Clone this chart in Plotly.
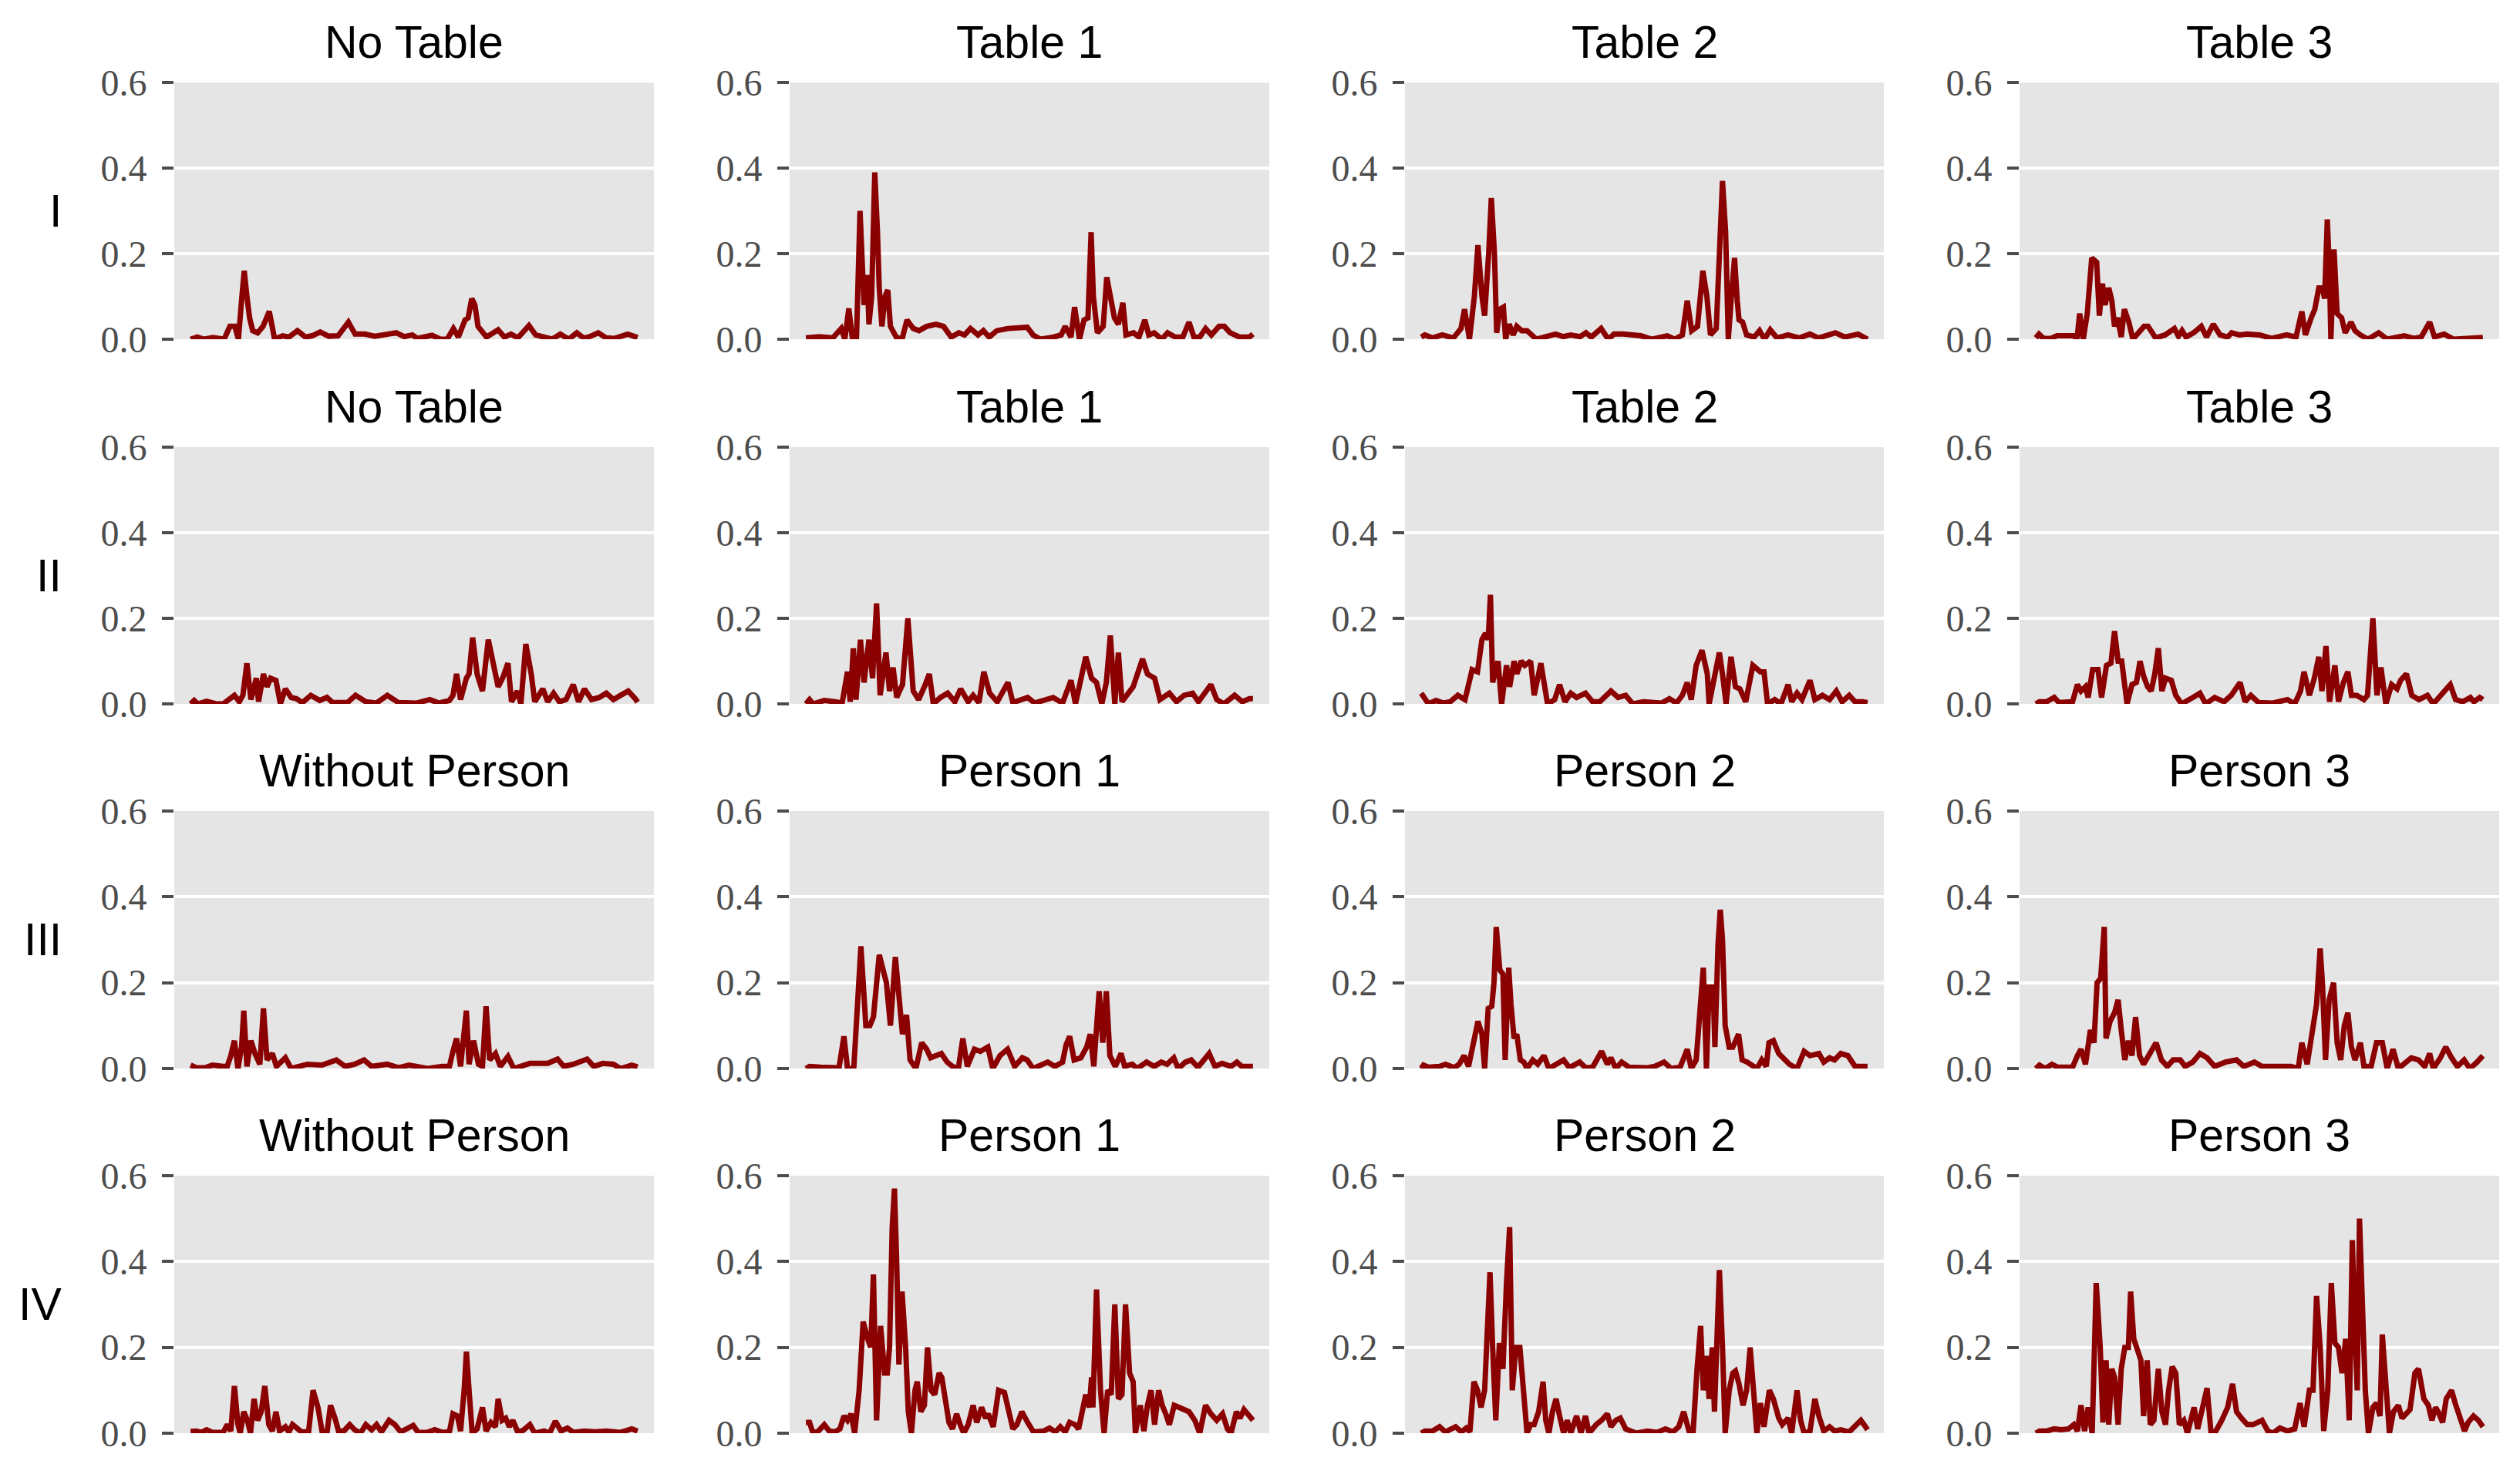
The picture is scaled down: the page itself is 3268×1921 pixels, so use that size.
import plotly.graph_objects as go

# ---------------- data ----------------
row_labels = ["I", "II", "III", "IV"]
col_titles_tables = ["No Table", "Table 1", "Table 2", "Table 3"]
col_titles_persons = ["Without Person", "Person 1", "Person 2", "Person 3"]
y_ticks = [0.0, 0.2, 0.4, 0.6]
y_tick_labels = ["0.0", "0.2", "0.4", "0.6"]

# Row I
t_1_1 = [0, 1.5, 3, 5, 7.5, 8.8, 9.9, 10.7, 11.4, 12, 12.6, 13.2, 13.9, 15, 16.2, 17.6, 18.8, 20.6, 22, 23.9, 25.7, 27.2, 29, 30.9, 33, 35.3, 36.8, 39, 41.2, 44.1, 46, 47.8, 49.6, 50.7, 54, 55.9, 57.4, 58.8, 59.9, 61.4, 62.1, 62.9, 63.6, 64.3, 65.1, 66.2, 68.8, 70.2, 71.7, 73.2, 75.7, 77.2, 78.7, 80.9, 82.7, 84.6, 86.4, 87.9, 89, 91.2, 93, 94.9, 97.8, 100]
v_1_1 = [0, .005, 0, .004, 0, .03, .03, 0, .09, .16, .10, .05, .02, .015, .03, .065, 0, .008, .005, .02, .005, .008, .017, .007, .008, .04, .012, .012, .007, .012, .015, .006, .01, .002, .009, 0, 0, .025, .005, .045, .05, .095, .08, .03, .02, .005, .022, .005, .012, .003, .032, .01, .006, 0, .012, 0, .015, .003, .005, .015, .003, .002, .012, .004]

t_1_2 = [0, 3, 6, 7.9, 8.7, 9.6, 10.4, 11.3, 12.1, 13, 13.7, 14.1, 14.7, 15.4, 16, 16.4, 17, 17.7, 18.3, 18.9, 20.2, 21.5, 22.6, 24, 25.3, 27, 29.1, 30.8, 32.5, 34.2, 35.5, 36.8, 38.5, 39.7, 41, 42.7, 45.2, 47.8, 49.5, 50.8, 52.5, 55.4, 57.1, 58, 59.3, 60.1, 61.2, 62.2, 63.1, 63.8, 64.3, 65.2, 66.5, 67.3, 68.2, 69, 69.9, 70.9, 71.6, 73.3, 74.5, 75.8, 76.7, 77.9, 79.6, 80.9, 82.6, 84.3, 85.7, 86.8, 88.1, 89.4, 90.7, 92.4, 93.6, 94.9, 97, 99.2, 100]
v_1_2 = [.003, .006, .003, .025, 0, .072, 0, 0, .30, .08, .15, .035, .10, .39, .25, .12, .03, .10, .115, .03, .005, 0, .045, .025, .02, .03, .035, .03, .005, .015, .01, .025, .01, .02, .005, .02, .025, .025, .028, .01, 0, .005, .01, .03, .005, .075, 0, .045, .05, .25, .10, .015, .03, .145, .09, .05, .035, .085, .01, .015, .005, .045, .01, .015, 0, .015, .005, .005, .04, .005, .005, .025, .01, .03, .03, .015, .005, .005, .012]

t_1_3 = [0, 0.8, 2.5, 4.7, 7.2, 8.9, 9.7, 10.8, 11.9, 12.7, 13.6, 14.2, 15.1, 15.7, 16.4, 16.9, 17.6, 18.4, 18.9, 19.7, 20.6, 21.4, 22.5, 23.7, 25.8, 28, 30.1, 31.8, 33.5, 35.6, 36.9, 38.1, 40.3, 41.9, 43.2, 45.3, 47, 49.2, 51.7, 55.1, 56.8, 58.5, 59.6, 60.6, 61.9, 63.1, 64, 64.8, 66.1, 66.9, 67.5, 68.2, 68.8, 69.5, 70.2, 70.8, 71.2, 72, 72.9, 74.6, 75.8, 76.9, 78.2, 79.7, 82.2, 84.7, 87.1, 89, 92.8, 94.9, 97.9, 100]
v_1_3 = [.005, .01, .003, .01, .003, .025, .07, 0, .10, .22, .10, .055, .20, .33, .20, .015, .07, .075, 0, .035, .01, .03, .02, .02, 0, .005, .012, .006, .01, .006, .015, .005, .025, 0, .012, .012, .01, .008, 0, .008, 0, .01, .09, .02, .03, .16, .10, .01, .025, .20, .37, .25, 0, .10, .19, .09, .045, .04, .01, .005, .02, 0, .022, .003, .01, .003, .012, .003, .015, .005, .012, 0]

t_1_4 = [0, 0.7, 1.7, 3.4, 4.7, 6.4, 8.5, 9.2, 9.8, 10.6, 11.5, 12.5, 13.6, 14.2, 14.9, 15.5, 16.3, 17, 17.6, 18.3, 19.1, 19.8, 20.8, 21.7, 24.2, 25.1, 26.8, 28.9, 31, 31.9, 32.7, 33.6, 35.3, 37, 38.2, 39.7, 41.2, 42.9, 43.8, 45.5, 47.2, 50.1, 52.7, 56.1, 58.2, 59.5, 60.3, 61.6, 62.4, 63.3, 64.1, 64.6, 65.2, 65.7, 66, 66.7, 67.4, 68.4, 69.2, 70.5, 71.4, 72.6, 74.3, 76.7, 78.6, 82.4, 84.5, 86.2, 88.1, 89.2, 91.3, 93.5, 96.4, 100]
v_1_4 = [.003, .012, .002, .002, .008, .007, .008, 0, .06, 0, .06, .19, .18, .055, .13, .08, .12, .09, .03, .05, .005, .07, .04, 0, .03, .03, .003, .01, .025, .007, .02, .005, .015, .03, .005, .035, .01, .005, .015, .01, .012, .01, .002, .01, .005, .065, .01, .05, .07, .12, .12, .095, .28, .15, 0, .21, .06, .05, .015, .04, .02, .01, 0, .015, 0, .008, .002, .005, .04, .005, .012, 0, .002, .004]

# Row II
t_2_1 = [0, 0.8, 1.6, 3.6, 5.7, 7.3, 9.8, 10.9, 11.7, 12.6, 13.5, 14.7, 15.2, 16.3, 17.1, 17.9, 19.1, 20.1, 21.2, 22.5, 23.7, 25, 26.9, 28.9, 30.5, 31.8, 35.1, 36.9, 39.2, 41.6, 44, 46.5, 50.6, 53.5, 55.5, 57.9, 58.7, 59.5, 60.4, 61.7, 62.3, 63.1, 64.1, 65.3, 66.6, 67.7, 68.8, 69.8, 71, 71.8, 73.1, 73.9, 75, 76.2, 77, 78.8, 79.9, 81.2, 82.5, 84, 85.6, 86.8, 88.1, 89.7, 91.4, 93, 94.6, 96.2, 97.9, 99.5, 100]
v_2_1 = [0, .008, 0, .006, 0, 0, .02, .005, .02, .095, .01, .06, .005, .07, .04, .06, .055, 0, .035, .015, .012, .003, .02, .008, .015, .003, .003, .02, .005, .002, .02, .003, .002, .01, .002, .008, .02, .07, .01, .06, .07, .155, .07, .03, .15, .09, .04, .06, .095, .005, .03, 0, .14, .07, .005, .035, .005, .025, .005, .01, .045, .005, .035, .01, .015, .025, .01, .02, .03, .012, .004]

t_2_2 = [0, 0.8, 1.6, 4.1, 6.5, 8.1, 9.3, 9.9, 10.6, 11.2, 12.2, 13, 14.1, 14.9, 15.8, 16.6, 17.9, 18.7, 19.5, 20.3, 21.6, 22.8, 24, 25.2, 26.5, 27.6, 28.5, 30.1, 31.7, 33.3, 34.6, 36.3, 37.4, 38.7, 39.8, 41.1, 42.8, 45.2, 46.3, 49.6, 51.2, 55.3, 57.4, 59.3, 60.3, 62.6, 63.9, 65, 66.2, 67.2, 68.1, 69.1, 69.9, 70.7, 73.2, 75.3, 76.4, 78, 79.2, 81.3, 82.9, 84.6, 86.5, 87.8, 90.6, 91.9, 93.5, 95.9, 97.6, 99.2, 100]
v_2_2 = [0, .01, 0, .008, .005, .002, .075, .005, .13, .01, .15, .05, .15, .06, .235, .02, .12, .03, .085, .015, .045, .20, .03, .01, .04, .07, 0, .015, .025, .005, .035, .005, .02, .003, .075, .025, .005, .05, .003, .015, .002, .015, .002, .055, 0, .11, .06, .05, 0, .05, .16, 0, .12, .005, .04, .105, .07, .06, .01, .025, .005, .02, .025, .005, .045, .01, 0, .02, .005, .012, .012]

t_2_3 = [0, 1.6, 3.3, 4.9, 6.5, 8.2, 9.8, 11.4, 12.6, 13.6, 14.4, 15, 15.5, 16, 17.2, 18, 19.1, 19.8, 20.8, 21.4, 22.4, 23.2, 24.5, 25.3, 26.8, 28.3, 29.9, 31, 32.2, 33.5, 34.8, 36.8, 38.4, 40, 42.5, 44.1, 45.8, 47.4, 49.8, 53.9, 55.6, 57.2, 58.5, 59.6, 60.5, 61.6, 62.9, 64.1, 64.5, 65.7, 66.8, 67.5, 68.3, 69.4, 70.4, 71.4, 72.7, 74.3, 76, 76.8, 77.6, 79.2, 80.6, 82.2, 83, 84.2, 85.3, 87.1, 88.2, 89.9, 91.5, 93, 94.3, 95.9, 97.2, 98.9, 100]
v_2_3 = [.025, 0, .008, .002, .005, .02, .01, .08, .075, .15, .165, .15, .255, .05, .10, 0, .09, .04, .10, .07, .10, .09, .10, .02, .095, 0, .01, .045, .005, .025, .015, .025, .005, .005, .03, .015, .02, 0, .005, .002, .012, .002, .02, .05, .01, .09, .125, .07, 0, .07, .12, .07, 0, .11, .04, .035, .005, .09, .075, .075, 0, .01, 0, .045, .005, .025, .01, .055, .01, .02, .01, .03, .005, .02, .005, .005, .003]

t_2_4 = [0, 0.8, 2.4, 4.1, 5.2, 8.2, 9.3, 10.1, 11.1, 11.7, 12.7, 13.9, 14.7, 15.8, 16.8, 17.6, 18.4, 19.2, 20.4, 21.5, 22.5, 23.3, 24.1, 25, 25.8, 26.6, 27.4, 28.2, 29, 30.3, 31.3, 32.6, 35.1, 36.7, 38, 40, 42.1, 43.7, 45.7, 46.8, 48.1, 49.8, 53, 56.3, 57.9, 59.2, 60, 61.2, 62.3, 63.3, 64, 64.9, 65.7, 66.9, 67.7, 68.8, 69.8, 70.6, 71.8, 73.4, 74.2, 75.4, 76.3, 77.2, 78.3, 79.6, 80.8, 81.6, 82.9, 84.1, 85.7, 87.6, 88.9, 91.4, 92.7, 93.9, 95.5, 97.2, 98, 99.3, 100]
v_2_4 = [0, .005, .005, .015, .003, .005, .045, .03, .04, .015, .08, .08, .015, .09, .095, .17, .10, .10, 0, .045, .05, .10, .065, .04, .03, .07, .13, .03, .06, .055, .02, 0, .015, .025, 0, .015, .005, .02, .05, .005, .02, .003, .002, .01, 0, .03, .075, .02, .06, .11, .03, .135, .005, .09, .005, .05, .075, .02, .02, .01, .02, .20, .02, .085, 0, .045, .035, .055, .07, .02, .01, .02, 0, .03, .045, .01, .005, .015, .005, .015, .01]

# Row III
t_3_1 = [0, 1.3, 3.3, 4.9, 7.3, 8.2, 9, 9.8, 10.6, 11.4, 11.9, 12.6, 13.5, 14.4, 15.5, 16.3, 17.1, 18.3, 19.2, 21.2, 22.5, 26.1, 29.4, 32.6, 34.6, 36.7, 38.8, 40.5, 44, 46.5, 48.9, 53, 56.3, 57.9, 58.7, 59.5, 60.4, 61.7, 62.3, 63.3, 64.4, 65.3, 66.1, 66.9, 68.2, 69.3, 71, 72.3, 75.9, 79.9, 82.1, 83.5, 85.6, 88.7, 90.2, 92.2, 94.6, 96.2, 98.7, 100]
v_3_1 = [.008, .002, .002, .008, .005, .005, .03, .065, 0, .05, .135, .005, .065, .035, .01, .14, .02, .035, .005, .025, 0, .01, .008, .02, .005, .01, .02, .005, .01, .002, .008, 0, .005, .005, .04, .07, .005, .135, .01, .065, .01, .005, .145, .02, .035, .005, .028, 0, .012, .012, .022, .005, .01, .022, .005, .012, .01, 0, .008, .004]

t_3_2 = [0, 0.8, 3.3, 7.4, 8.5, 9.3, 10.7, 12.3, 13.4, 14.3, 15.1, 16.4, 18, 18.9, 20, 20.8, 21.6, 22.5, 23.3, 24.6, 25.9, 27, 27.9, 30.3, 31.6, 32.8, 34.1, 35.1, 36.1, 37.7, 39, 40.7, 41.8, 43.4, 45.1, 46.7, 48.4, 49.5, 50.8, 54.1, 55.7, 57.4, 58.2, 59, 60, 61.5, 62.8, 63.6, 64.4, 65.6, 66.4, 67.2, 68, 69.2, 70.5, 71.3, 73, 74.1, 76.2, 77.9, 79.5, 80.8, 82.3, 83.3, 84.9, 86.2, 87.7, 90.2, 91.5, 93.1, 95.1, 96.4, 97.5, 100]
v_3_2 = [0, .005, .003, .002, .075, 0, 0, .285, .10, .10, .12, .265, .20, .10, .26, .16, .08, .125, .02, 0, .06, .045, .025, .035, .015, .005, 0, .07, .005, .045, .04, .05, 0, .03, .045, .005, .025, .02, 0, .015, .005, .015, .055, .075, .02, .025, .05, .08, .005, .18, .06, .18, .03, .005, .035, .005, .01, 0, .015, .005, .015, .01, .025, 0, .015, .02, .003, .035, .005, .012, .005, .015, .005, .005]

t_3_3 = [0, 0.5, 1.6, 4.1, 5.4, 7.4, 8.5, 9.6, 10.6, 11.9, 12.7, 13.6, 14.2, 15, 15.8, 16.3, 16.8, 17.6, 18.3, 18.8, 19.6, 20.1, 20.8, 21.4, 22.2, 23, 23.7, 25, 26.1, 27.5, 28.6, 31.9, 33.2, 35.5, 36.8, 38.4, 40.4, 41.7, 42.5, 43.6, 44.9, 46.6, 50.7, 52.3, 54.4, 56, 58, 59.6, 60.5, 61.6, 62.6, 63.2, 63.9, 64.5, 65.4, 65.8, 66.5, 67, 67.5, 68.1, 69, 69.8, 71.1, 71.9, 73, 74.3, 75.2, 76.3, 77.3, 77.9, 78.9, 80.1, 81.2, 82.5, 84.2, 85.8, 87.1, 89.1, 90.2, 91.5, 92.6, 94, 95.6, 97.2, 98.9, 100]
v_3_3 = [0, .008, .003, .005, .01, .002, .01, .03, .005, .08, .11, .08, 0, .14, .145, .20, .33, .23, .22, .02, .235, .15, .07, .08, .02, .015, 0, .02, .01, .03, 0, .02, .002, .015, .002, .003, .04, .01, .025, 0, .015, .003, .002, .005, .015, 0, .003, .045, 0, .02, .165, .235, 0, .19, .19, .05, .29, .37, .30, .10, .05, .05, .08, .02, .015, .005, 0, .02, .005, .06, .065, .035, .025, .01, 0, .04, .03, .035, .015, .025, .02, .035, .03, .005, .005, .005]

t_3_4 = [0, 0.8, 2.1, 3.6, 4.9, 8.2, 9.3, 10.1, 11.1, 12.2, 13, 13.7, 14.5, 15.3, 15.7, 16.6, 17.6, 18.4, 19.1, 19.9, 20.7, 21.5, 22.3, 23.2, 24.1, 25.3, 26.9, 28.1, 29.4, 30.7, 32.3, 33.4, 35.1, 36.7, 38.3, 40, 42.4, 44.9, 46.5, 48.9, 50.6, 53.8, 57.1, 58.7, 59.5, 60.7, 62, 62.8, 63.6, 64.1, 64.8, 65.6, 66.6, 67.4, 68.2, 69, 69.8, 70.6, 71.4, 72.6, 73.4, 75, 76.2, 77.5, 78.6, 79.9, 81.1, 82.4, 84, 85.6, 87, 88.1, 88.9, 90.5, 91.7, 93, 94.3, 95.8, 97.1, 98.7, 100]
v_3_4 = [0, .008, 0, .01, .003, .003, .03, .045, .01, .09, .06, .20, .21, .33, .07, .11, .13, .16, .09, .02, .065, .03, .12, .03, .01, .03, .06, .02, .005, .02, .02, .005, .015, .035, .025, .005, .015, .02, .005, .015, .005, .005, .005, 0, .06, .01, .10, .15, .28, .20, .02, .16, .20, .06, .02, .10, .13, .05, .02, .06, .005, .005, .06, .06, 0, .045, 0, .01, .025, .02, .005, .035, 0, .025, .05, .025, .005, .02, 0, .015, .03]

# Row IV
t_4_1 = [0, 1.3, 2.4, 3.6, 4.9, 7.3, 8.2, 9, 9.8, 10.6, 11.1, 11.9, 12.7, 13.4, 14.2, 15, 15.8, 16.6, 17.5, 18.3, 19.1, 19.9, 21.2, 22, 22.8, 23.8, 24.8, 26.4, 27.4, 28.5, 29.4, 30.5, 31.3, 32.3, 33.1, 34.3, 35.6, 36.7, 38, 39.2, 40.5, 41.6, 42.7, 44.4, 45.7, 47, 48.1, 49.8, 50.9, 53, 54.6, 56.3, 57.9, 58.7, 59.7, 60.4, 61.2, 61.7, 62.3, 63, 64.1, 65.3, 66.1, 67.2, 68.2, 68.8, 69.7, 70.5, 71.3, 72.1, 73.1, 74.2, 75.9, 77, 79.1, 80.3, 81.6, 82.9, 84.3, 85.6, 88.1, 90.5, 93, 96.2, 98.7, 100]
v_4_1 = [.004, .005, .002, .008, .002, .002, .02, .005, .11, .02, 0, .05, .03, 0, .08, .03, .05, .11, .02, .005, .05, .005, .015, .003, .02, .012, .003, .003, .10, .06, .005, 0, .065, .035, .005, .005, .02, .008, 0, .02, .008, .02, .003, .03, .02, .003, .01, .018, .002, .002, .008, .002, .003, .045, .04, .005, .10, .19, .10, 0, .01, .06, .005, .025, .015, .08, .03, .035, .015, .03, .005, .005, .02, 0, .005, 0, .028, .005, .012, .002, .005, .003, .005, .002, .01, .005]

t_4_2 = [0, 0.8, 1.6, 2.8, 4.1, 5.2, 6.5, 7.6, 8.5, 9.3, 10.1, 10.9, 11.9, 12.8, 13.8, 14.5, 15.1, 15.8, 16.7, 17.6, 18.2, 18.7, 19.3, 19.8, 20.3, 20.8, 21.5, 22.3, 22.9, 23.6, 24.4, 24.9, 25.7, 26.5, 27.2, 28, 28.8, 29.8, 30.4, 31.2, 32, 32.8, 33.7, 34.5, 35.3, 36.3, 37.4, 38.2, 39.3, 40.2, 40.8, 41.9, 43.1, 44.4, 45.5, 46.3, 47.2, 48.3, 49.6, 50.9, 53.2, 54.5, 55.8, 56.9, 58, 59, 60.2, 61, 61.8, 62.6, 63.4, 63.9, 64.2, 65, 65.9, 66.7, 67.5, 68.3, 69.1, 69.9, 70.7, 71.5, 72.4, 73.2, 73.7, 74.8, 75.6, 76.4, 77.2, 78, 78.9, 79.7, 80.5, 81.3, 82.4, 83.7, 85.7, 87, 88.1, 89.4, 90.6, 91.9, 93.2, 94.3, 95.1, 96.3, 97.1, 98, 99.2, 100]
v_4_2 = [.025, .025, 0, .005, .02, .005, .003, .01, .04, .03, .045, 0, .10, .26, .22, .20, .37, .03, .25, .14, .14, .20, .48, .57, .40, .16, .33, .20, .05, 0, .10, .12, .05, .065, .20, .10, .09, .14, .13, .07, .025, .01, .045, .02, 0, .02, .065, .025, .06, .035, .045, .015, .10, .095, .05, .01, .02, .05, .025, .003, .005, .012, .003, .015, .003, .025, .02, .01, .05, .09, .06, .13, .06, .335, .10, 0, .10, .09, .30, .08, .09, .30, .14, .12, 0, .065, .005, .065, .10, .02, .10, .065, .045, .02, .065, .06, .05, .03, 0, .065, .045, .03, .045, .01, 0, .05, .035, .055, .04, .03]

t_4_3 = [0, 0.8, 2.5, 4.1, 5.4, 7.7, 9, 10.1, 10.9, 11.8, 12.6, 13.4, 14.2, 15, 15.4, 16, 16.7, 17.5, 18.3, 19.1, 19.8, 20.4, 21.2, 22.1, 22.9, 23.7, 24.5, 25.3, 26.3, 27.3, 27.9, 28.6, 29.4, 30.2, 31, 31.9, 32.7, 33.5, 34.8, 35.8, 36.8, 37.6, 39.2, 40.4, 41.7, 42.5, 43.6, 44.6, 45.8, 48.2, 50.7, 52.8, 54.7, 56.4, 57.7, 58.8, 60, 60.9, 61.8, 62.6, 63.2, 63.9, 64.5, 65.2, 65.7, 66.2, 66.8, 67.5, 68.1, 69, 69.8, 70.4, 71.2, 72.1, 72.9, 73.7, 74.3, 75.2, 76, 76.8, 78, 78.9, 80.1, 80.9, 82.2, 83, 84.2, 85, 85.8, 87.1, 88.2, 89.1, 90.2, 91.5, 92.6, 94, 95.9, 97.2, 98.5, 99.2, 100]
v_4_3 = [0, .005, .005, .015, .003, .015, .003, .012, .003, .12, .10, .06, .10, .30, .375, .20, .03, .21, .15, .35, .48, .10, .20, .20, .10, 0, .02, .02, .05, .12, .03, 0, .05, .08, .04, 0, .03, 0, .04, 0, .04, 0, .02, .03, .045, .015, .03, .035, .01, 0, .005, .002, .01, .003, .015, .05, .005, 0, .15, .25, .10, .18, .08, .20, .05, .20, .38, .20, 0, .10, .14, .145, .115, .065, .10, .20, .10, 0, .07, .015, .10, .08, .035, .02, .035, 0, .10, .03, 0, .005, .08, .04, .005, .015, .005, .008, .003, .015, .03, .02, .008]

t_4_4 = [0, 0.8, 2.4, 4.1, 5.7, 7.3, 8.5, 9.3, 10.1, 10.9, 11.7, 12.6, 13.5, 14.4, 15, 15.7, 16.3, 17, 17.6, 18.4, 19.1, 19.9, 20.7, 21.2, 21.9, 22.5, 23.5, 24.1, 24.9, 25.6, 26.4, 27.4, 28.2, 29, 29.7, 30.5, 31.3, 32.1, 33.1, 33.9, 35.4, 36.2, 37.2, 38.3, 39.2, 40, 41.6, 42.9, 44, 44.9, 46, 47.3, 48.6, 50.6, 51.9, 53, 54.6, 56.3, 57.9, 59.1, 60, 61.2, 62, 62.8, 63.6, 64.4, 65.3, 66.1, 66.9, 67.7, 68.5, 69.3, 70.1, 70.8, 71.5, 71.9, 72.4, 73.1, 73.7, 74.4, 75.4, 76.2, 77, 77.5, 78.3, 79.1, 80, 81.1, 81.9, 82.9, 83.7, 84.8, 85.6, 86.8, 87.8, 88.6, 89.4, 90, 91, 91.8, 93, 93.8, 94.9, 95.9, 96.7, 97.9, 99, 100]
v_4_4 = [0, .005, .005, .01, .008, .01, .02, .005, .065, .005, .06, 0, .35, .20, .025, .17, .02, .15, .13, .02, .15, .20, .20, .33, .22, .20, .17, .04, .17, .02, .03, .15, .05, .02, .10, .155, .14, .02, .03, 0, .06, .01, .06, .105, 0, 0, .03, .06, .115, .05, .035, .02, .02, .03, .005, 0, .012, .005, .01, .07, .015, .10, .10, .32, .20, .005, .10, .35, .21, .20, .14, .22, .03, .45, .20, .10, .50, .30, .10, 0, .06, .07, .04, .23, .12, 0, .05, .065, .035, .045, .055, .14, .15, .08, .065, .03, .06, .05, .025, .08, .10, .07, .03, .005, .025, .04, .03, .015]

series_t = [[t_1_1, t_1_2, t_1_3, t_1_4],
            [t_2_1, t_2_2, t_2_3, t_2_4],
            [t_3_1, t_3_2, t_3_3, t_3_4],
            [t_4_1, t_4_2, t_4_3, t_4_4]]
series_v = [[v_1_1, v_1_2, v_1_3, v_1_4],
            [v_2_1, v_2_2, v_2_3, v_2_4],
            [v_3_1, v_3_2, v_3_3, v_3_4],
            [v_4_1, v_4_2, v_4_3, v_4_4]]
row_titles = [col_titles_tables, col_titles_tables, col_titles_persons, col_titles_persons]

# ---------------- layout ----------------
W, H = 3268, 1921
OFF = 8  # page body margin compensation
col_px = [(226, 848), (1024, 1646), (1822, 2443), (2619, 3241)]
row_px = [(107, 440), (580, 913), (1052, 1386), (1525, 1859)]

LINE_COLOR = "#8B0000"
PANEL_BG = "#E5E5E5"
TITLE_FONT = "Liberation Sans, Arial, sans-serif"
TICK_FONT = "Liberation Serif, DejaVu Serif, serif"


def px_x(p):
    return (p - OFF) / W


def px_y(p):
    return 1 - (p - OFF) / H


fig = go.Figure()
annotations = []
layout_axes = {}

for r in range(4):
    for c in range(4):
        k = r * 4 + c + 1
        xa = "x" if k == 1 else f"x{k}"
        ya = "y" if k == 1 else f"y{k}"
        fig.add_trace(go.Scatter(
            x=series_t[r][c], y=series_v[r][c], mode="lines",
            line=dict(color=LINE_COLOR, width=7),
            xaxis=xa, yaxis=ya, showlegend=False, hoverinfo="skip"))
        x0, x1 = col_px[c]
        y0, y1 = row_px[r]
        layout_axes["xaxis" if k == 1 else f"xaxis{k}"] = dict(
            domain=[px_x(x0), px_x(x1)], anchor=ya,
            range=[-3.65, 103.65], showgrid=False, zeroline=False,
            showticklabels=False, ticks="", showline=False,
            automargin=False, fixedrange=True)
        layout_axes["yaxis" if k == 1 else f"yaxis{k}"] = dict(
            domain=[px_y(y1), px_y(y0)], anchor=xa,
            range=[0, 0.6], tickvals=y_ticks, ticktext=y_tick_labels,
            showgrid=True, gridcolor="white", gridwidth=4,
            zeroline=False, showline=False,
            ticks="outside", ticklen=15, tickwidth=4, tickcolor="#4D4D4D",
            ticklabelstandoff=10,
            tickfont=dict(family=TICK_FONT, size=48, color="#4D4D4D"),
            automargin=False, fixedrange=True)
        annotations.append(dict(
            text=row_titles[r][c], xref="paper", yref="paper",
            x=px_x((x0 + x1) / 2), y=px_y(y0 - 52),
            xanchor="center", yanchor="middle", showarrow=False,
            font=dict(family=TITLE_FONT, size=59, color="black")))
    y0, y1 = row_px[r]
    annotations.append(dict(
        text=row_labels[r], xref="paper", yref="paper",
        x=px_x(82), y=px_y((y0 + y1) / 2),
        xanchor="right", yanchor="middle", showarrow=False,
        font=dict(family=TITLE_FONT, size=59, color="black")))

fig.update_layout(
    template="none",
    width=W, height=H,
    margin=dict(l=0, r=0, t=0, b=0, pad=0, autoexpand=False),
    paper_bgcolor="white", plot_bgcolor=PANEL_BG,
    annotations=annotations,
    **layout_axes)

fig.write_html("out.html")
